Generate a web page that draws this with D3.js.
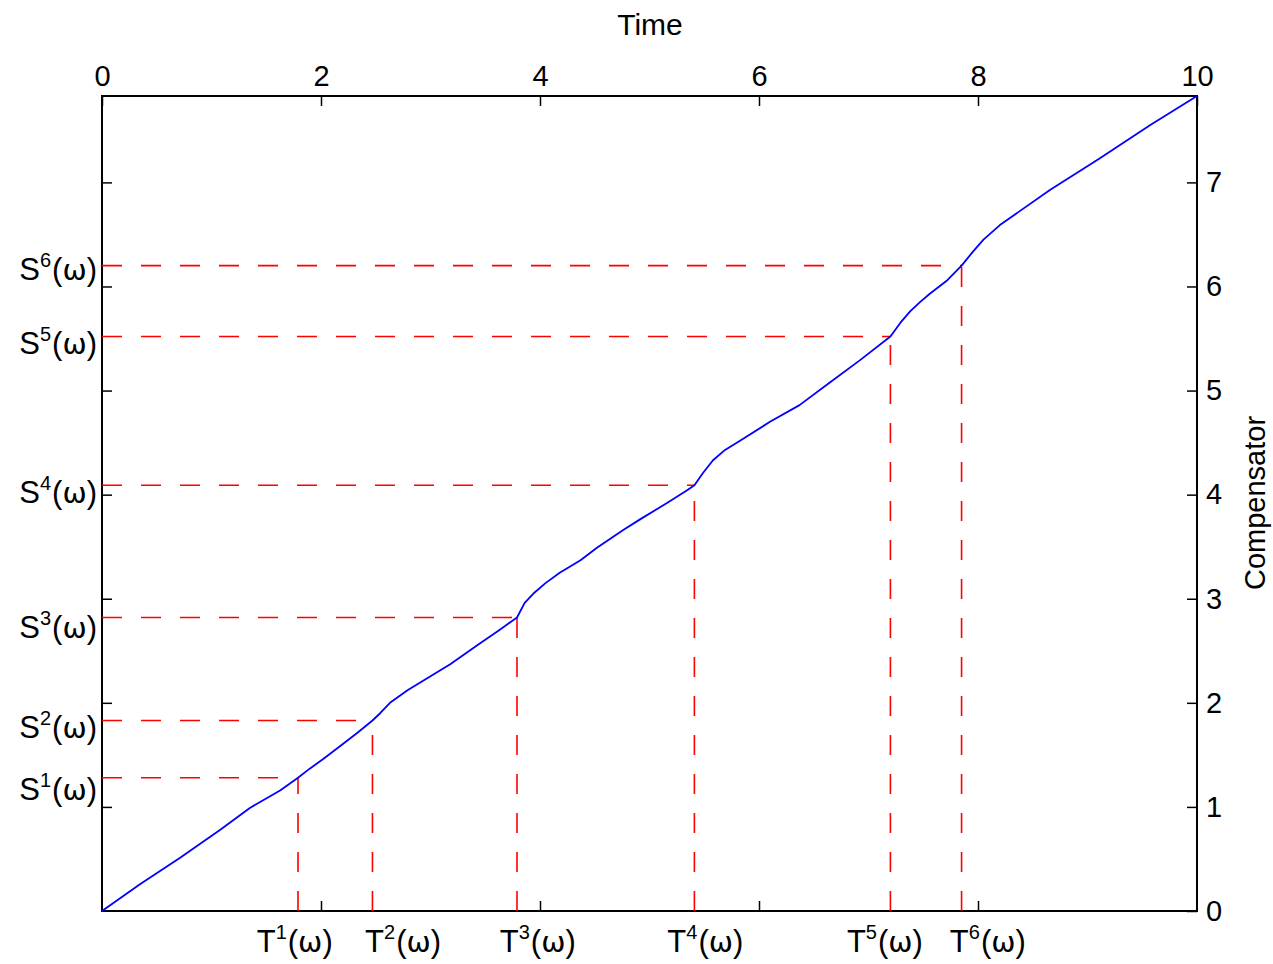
<!DOCTYPE html>
<html>
<head>
<meta charset="utf-8">
<script src="https://cdn.jsdelivr.net/npm/d3@7"></script>
<style>
  html, body { margin: 0; padding: 0; background: #fff; }
  svg text { font-family: "Liberation Sans", Arial, Helvetica, sans-serif; fill: #000; }
</style>
</head>
<body>
<svg id="chart" width="1273" height="964"></svg>
<script>
// Compensator trajectory (time, compensator value)
const curveTime = [0, 0.35, 0.71, 1.08, 1.35, 1.63, 1.79,
  1.90, 2.02, 2.17, 2.33, 2.47,
  2.54, 2.63, 2.79, 3.18, 3.45, 3.63, 3.79,
  3.86, 3.94, 4.05, 4.18, 4.37, 4.52, 4.76, 4.91, 5.16, 5.34, 5.41,
  5.49, 5.58, 5.69, 5.83, 6.10, 6.37, 6.65, 6.92, 7.20,
  7.29, 7.38, 7.47, 7.56, 7.72, 7.85,
  7.95, 8.05, 8.20, 8.66, 9.11, 9.57, 10];
const curveValue = [0, 0.26, 0.51, 0.78, 0.99, 1.16, 1.28,
  1.37, 1.46, 1.58, 1.71, 1.83,
  1.90, 2.00, 2.12, 2.37, 2.57, 2.70, 2.82,
  2.96, 3.05, 3.15, 3.25, 3.37, 3.49, 3.66, 3.76, 3.92, 4.04, 4.09,
  4.21, 4.33, 4.43, 4.52, 4.70, 4.86, 5.08, 5.29, 5.52,
  5.65, 5.76, 5.85, 5.93, 6.06, 6.20,
  6.33, 6.45, 6.59, 6.93, 7.23, 7.55, 7.83];

// Switching instants T^k(ω) and the compensator levels S^k(ω) reached there
const switchTimes = [1.79, 2.47, 3.79, 5.41, 7.2, 7.85];
const switchLevels = [1.28, 1.83, 2.82, 4.09, 5.52, 6.2];
const switchIndex = ["1", "2", "3", "4", "5", "6"];

// Where the T^k / S^k annotations sit along their axes
const tLabelAt = [1.76, 2.75, 3.98, 5.51, 7.15, 8.09];
const sLabelAt = [1.07, 1.66, 2.62, 3.92, 5.35, 6.06];

// Axis ticks
const timeTicks = [0, 2, 4, 6, 8, 10];
const compTicks = [0, 1, 2, 3, 4, 5, 6, 7];

const svg = d3.select("#chart");
svg.append("rect").attr("width", 1273).attr("height", 964).attr("fill", "#fff");

const plotL = 102, plotR = 1197, plotT = 96, plotB = 911;
const x = d3.scaleLinear().domain([0, 10]).range([plotL, plotR]);
const y = d3.scaleLinear().domain([0, 7.83]).range([plotB, plotT]);

const FS = 29;      // tick labels and axis titles
const FS_ANN = 31;  // T^k / S^k annotations

// Axes with inward ticks
const axTop = svg.append("g").attr("transform", `translate(0,${plotT})`)
  .call(d3.axisTop(x).tickValues(timeTicks).tickSizeInner(-10).tickSizeOuter(0).tickPadding(10));
const axBottom = svg.append("g").attr("transform", `translate(0,${plotB})`)
  .call(d3.axisBottom(x).tickValues([2, 4, 6, 8]).tickSizeInner(-10).tickSizeOuter(0).tickFormat(""));
const axLeft = svg.append("g").attr("transform", `translate(${plotL},0)`)
  .call(d3.axisLeft(y).tickValues(compTicks.slice(1)).tickSizeInner(-10).tickSizeOuter(0).tickFormat(""));
const axRight = svg.append("g").attr("transform", `translate(${plotR},0)`)
  .call(d3.axisRight(y).tickValues(compTicks).tickSizeInner(-10).tickSizeOuter(0).tickPadding(9));

[axTop, axBottom, axLeft, axRight].forEach(g => {
  g.attr("font-family", null).attr("font-size", null);
  g.select(".domain").remove();
  g.selectAll(".tick line").attr("stroke", "#000").attr("stroke-width", 1.5);
  g.selectAll(".tick text").attr("font-size", FS).attr("fill", "#000");
});

// Plot frame
svg.append("rect")
  .attr("x", plotL).attr("y", plotT)
  .attr("width", plotR - plotL).attr("height", plotB - plotT)
  .attr("fill", "none").attr("stroke", "#000").attr("stroke-width", 2);

// Dashed guides from each switching point to the axes
const guides = svg.append("g")
  .attr("stroke", "#ff0000").attr("stroke-width", 1.6)
  .attr("stroke-dasharray", "20,19").attr("fill", "none");
switchTimes.forEach((t, i) => {
  guides.append("line")
    .attr("x1", x(0)).attr("x2", x(t))
    .attr("y1", y(switchLevels[i])).attr("y2", y(switchLevels[i]));
  guides.append("line")
    .attr("x1", x(t)).attr("x2", x(t))
    .attr("y1", y(0)).attr("y2", y(switchLevels[i]));
});

// Compensator curve
const pts = curveTime.map((t, i) => [t, curveValue[i]]);
svg.append("path")
  .datum(pts)
  .attr("fill", "none").attr("stroke", "#0000ff").attr("stroke-width", 1.8)
  .attr("stroke-linejoin", "round")
  .attr("d", d3.line().x(d => x(d[0])).y(d => y(d[1])));

// Annotation labels: base letter, superscript index, then (ω)
function supLabel(g, base, sup) {
  g.append("tspan").text(base);
  g.append("tspan").attr("font-size", 20).attr("dy", -13).text(sup);
  g.append("tspan").attr("dy", 13).attr("dx", 1).text("(");
  g.append("tspan").attr("font-family", "DejaVu Sans").attr("font-size", 29).text("ω");
  g.append("tspan").text(")");
}

switchIndex.forEach((k, i) => {
  const tl = svg.append("text")
    .attr("x", x(tLabelAt[i])).attr("y", 952)
    .attr("text-anchor", "middle").attr("font-size", FS_ANN);
  supLabel(tl, "T", k);

  const sl = svg.append("text")
    .attr("x", 97).attr("y", y(sLabelAt[i]))
    .attr("text-anchor", "end").attr("font-size", FS_ANN);
  supLabel(sl, "S", k);
});

// Axis titles
svg.append("text")
  .attr("x", 650).attr("y", 35)
  .attr("text-anchor", "middle").attr("font-size", 30)
  .text("Time");

svg.append("text")
  .attr("transform", `translate(1265,503) rotate(-90)`)
  .attr("text-anchor", "middle").attr("font-size", FS)
  .text("Compensator");
</script>
</body>
</html>
